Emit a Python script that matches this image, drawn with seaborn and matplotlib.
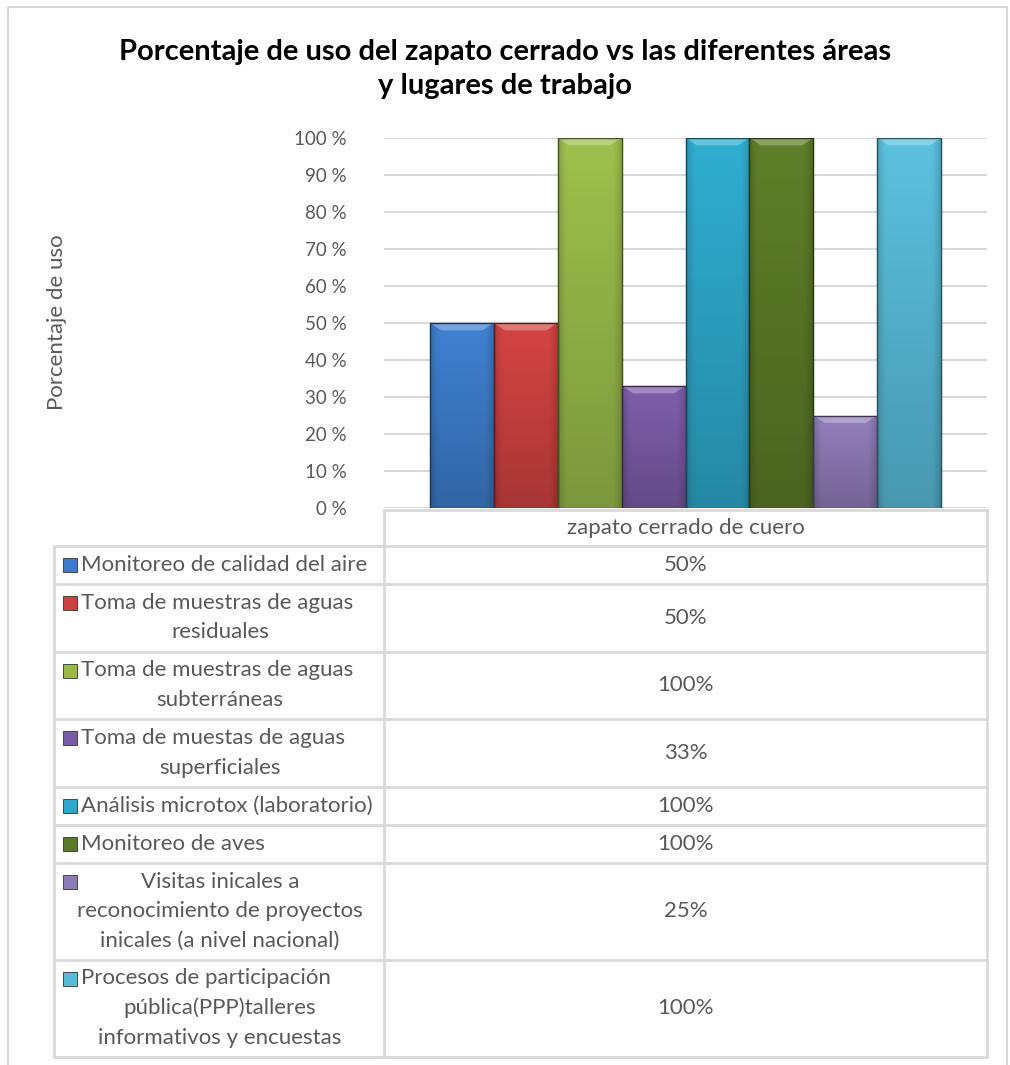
import matplotlib
matplotlib.use("Agg")
import matplotlib.pyplot as plt
import matplotlib.colors as mcolors
from matplotlib.patches import Rectangle
import numpy as np
import pandas as pd
import seaborn as sns

# data
category = "zapato cerrado de cuero"
areas = [
    "Monitoreo de calidad del aire",
    "Toma de muestras de aguas\nresiduales",
    "Toma de muestras de aguas\nsubterráneas",
    "Toma de muestas de aguas\nsuperficiales",
    "Análisis microtox (laboratorio)",
    "Monitoreo de aves",
    "Visitas inicales a\nreconocimiento de proyectos\ninicales (a nivel nacional)",
    "Procesos de participación\npública(PPP)talleres\ninformativos y encuestas",
]
values = [50, 50, 100, 33, 100, 100, 25, 100]
yticks = [0, 10, 20, 30, 40, 50, 60, 70, 80, 90, 100]

colors = ["#3D7CC9", "#CC4241", "#98B94A", "#7A5BA5",
          "#2EA7C9", "#5B7A27", "#8E7AB5", "#58BAD7"]

title = "Porcentaje de uso del zapato cerrado vs las diferentes áreas\ny lugares de trabajo"
ylabel = "Porcentaje de uso"

W, H = 1010, 1065
TXT = "#595959"
GRID = "#D9D9D9"
FS = 16

sns.set_style("white")
plt.rcParams["font.family"] = ["Lato", "DejaVu Sans"]

fig = plt.figure(figsize=(W / 100, H / 100), dpi=100)

# overlay in pixel coordinates for the data table and frame
ov = fig.add_axes([0, 0, 1, 1], zorder=0)
ov.set_xlim(0, W)
ov.set_ylim(H, 0)
ov.axis("off")
ov.patch.set_alpha(0)

# plot area
px0, px1, py_top, py_bot = 384, 987, 138, 508
ax = fig.add_axes([px0 / W, 1 - py_bot / H, (px1 - px0) / W, (py_bot - py_top) / H], zorder=2)
ax.patch.set_alpha(0)

df = pd.DataFrame({"tipo": category, "area": areas, "valor": values})
sns.barplot(data=df, x="tipo", y="valor", hue="area", hue_order=areas,
            palette=colors, width=0.848, saturation=1, legend=False,
            edgecolor="#2b2b2b", linewidth=0.8, ax=ax, zorder=3)

# soft shading on bars (Excel bevel look)
for bar, col in zip(list(ax.patches), colors):
    x0, y0 = bar.get_xy()
    w, h = bar.get_width(), bar.get_height()
    base = np.array(mcolors.to_rgb(col))
    ny, nx = 60, 30
    yy = np.linspace(1, 0, ny)[:, None]
    xx = np.linspace(0, 1, nx)[None, :]
    f = 0.82 + 0.22 * yy
    edge = np.minimum(xx, 1 - xx)
    f = f * (0.86 + 0.14 * np.clip(edge / 0.12, 0, 1))
    img = np.clip(base[None, None, :] * f[..., None], 0, 1)
    im = ax.imshow(img, extent=(x0, x0 + w, y0, y0 + h), aspect="auto",
                   origin="upper", zorder=3.5, interpolation="bilinear")
    im.set_clip_path(bar)
    # lighter chamfer at the top
    dx = w * 0.18
    bev = plt.Polygon([(x0, y0 + h), (x0 + w, y0 + h), (x0 + w - dx, y0 + h - 2.0),
                       (x0 + dx, y0 + h - 2.0)], closed=True, facecolor="white",
                      alpha=0.28, edgecolor="none", zorder=3.6)
    ax.add_patch(bev)
    edge_col = np.clip(base * 0.45, 0, 1)
    ax.add_patch(Rectangle((x0, y0), w, h, fill=False, edgecolor=edge_col,
                           linewidth=1.0, zorder=3.7))

ax.set_xlim(-0.5, 0.5)
ax.set_ylim(0, 100)
ax.set_yticks(yticks)
ax.set_yticklabels([f"{t} %" for t in yticks], fontsize=13.5, color=TXT)
ax.tick_params(axis="y", length=0, pad=27)
ax.set_xticks([])
ax.set_xlabel("")
ax.set_ylabel("")
ax.grid(axis="y", color=GRID, linewidth=1.5, zorder=0)
ax.set_axisbelow(True)
for s in ax.spines.values():
    s.set_visible(False)

# title and y label
ov.text(W / 2, 69, title, ha="center", va="center", fontsize=21,
        fontweight="bold", color="black", linespacing=1.35)
ov.text(57, 322, ylabel, ha="center", va="center", rotation=90,
        fontsize=FS, color=TXT)

# outer frame
ov.add_patch(Rectangle((8, 7), 999, 1070, fill=False, edgecolor=GRID, linewidth=1.5))

# data table
lc = dict(color=GRID, linewidth=2)
tx0, tx_mid, tx1 = 54, 384, 987
head_top, head_bot = 510, 546
line_h = 29.5
rows = [head_bot]
for a in areas:
    rows.append(rows[-1] + line_h * len(a.split("\n")) + 8.5)

ov.plot([tx_mid, tx1], [head_top, head_top], **lc)
ov.plot([tx_mid, tx_mid], [head_top, rows[-1]], **lc)
ov.plot([tx1, tx1], [head_top, rows[-1]], **lc)
ov.plot([tx0, tx0], [head_bot, rows[-1]], **lc)
for r in rows:
    ov.plot([tx0, tx1], [r, r], **lc)

ov.text((tx_mid + tx1) / 2, (head_top + head_bot) / 2, category,
        ha="center", va="center", fontsize=FS, color=TXT)

for i, (a, v, col) in enumerate(zip(areas, values, colors)):
    top, bot = rows[i], rows[i + 1]
    lines = a.split("\n")
    n = len(lines)
    ys = [(top + bot) / 2 + (k - (n - 1) / 2) * line_h for k in range(n)]
    ov.add_patch(Rectangle((63, ys[0] - 7), 14, 14, facecolor=col,
                           edgecolor="#333333", linewidth=0.6))
    for k, (ln, yk) in enumerate(zip(lines, ys)):
        if k == 0 and i != 6:
            ov.text(81, yk, ln, ha="left", va="center", fontsize=FS, color=TXT)
        else:
            ov.text(220, yk, ln, ha="center", va="center", fontsize=FS, color=TXT)
    ov.text((tx_mid + tx1) / 2, (top + bot) / 2, f"{v}%", ha="center",
            va="center", fontsize=FS, color=TXT)

fig.savefig("out.png", dpi=100, facecolor="white")
